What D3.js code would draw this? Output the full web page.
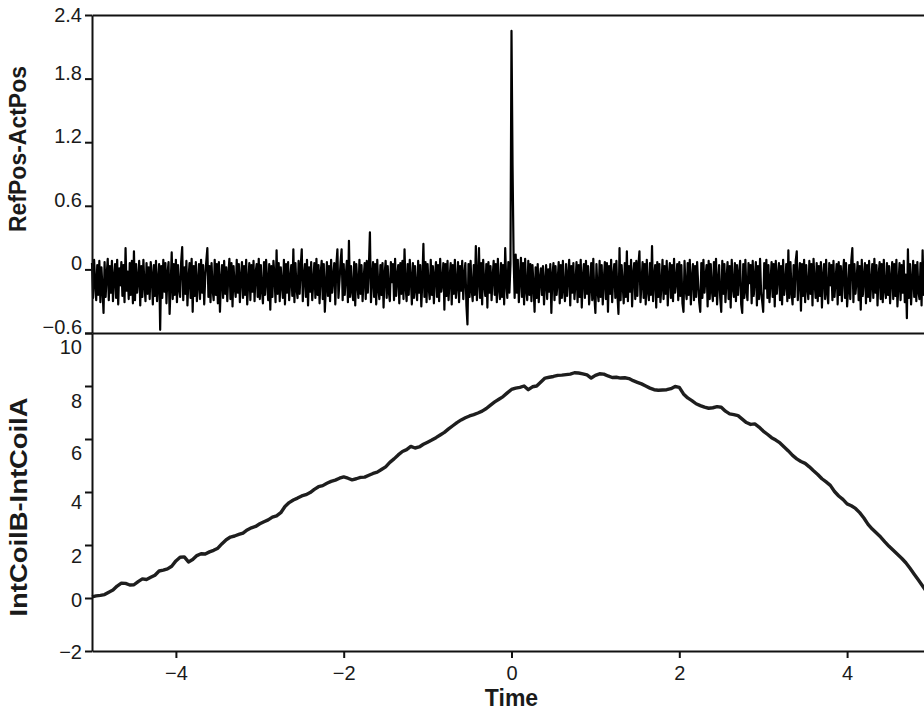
<!doctype html>
<html>
<head>
<meta charset="utf-8">
<style>
  body { margin: 0; background: #fff; }
  svg { display: block; }
  text { font-family: "Liberation Sans", Arial, sans-serif; fill: #1a1a1a; }
  .axis path, .axis line { stroke: #111; stroke-width: 2; }
  .axis text { font-size: 20px; fill: #1a1a1a; }
  .title { font-size: 23px; font-weight: bold; }
</style>
<script src="https://d3js.org/d3.v7.min.js"></script>
</head>
<body>
<svg width="924" height="710"></svg>
<script>
// sampled signals, time runs from tStart to tEnd in fixed steps
var tStart = -5, tEnd = 5;
var refPosStep = 0.0125;
var refPosDiff = [
  0.06,-0.27,0.09,-0.12,-0.29,0.04,-0.24,0.08,-0.31,0.02,-0.18,-0.41,0.07,-0.26,-0.05,0.10,-0.29,0.03,-0.22,0.08,
  -0.30,-0.08,0.05,-0.27,0.09,-0.33,0.01,-0.15,0.07,-0.25,0.04,-0.31,0.20,-0.20,-0.02,-0.28,0.06,-0.24,0.08,-0.32,
  0.17,-0.29,0.05,-0.22,-0.10,0.08,-0.34,0.03,-0.26,0.09,-0.14,-0.30,0.06,-0.23,0.02,-0.28,0.07,-0.06,-0.33,0.04,
  -0.25,0.08,-0.30,-0.11,0.05,-0.57,0.03,-0.27,0.09,-0.21,0.06,-0.32,-0.04,0.07,-0.42,-0.15,0.16,-0.28,0.05,-0.24,
  0.09,-0.31,0.04,-0.18,-0.26,0.07,0.21,-0.29,0.02,-0.23,0.08,-0.34,-0.09,0.06,-0.27,0.10,-0.40,0.03,-0.25,0.07,
  -0.30,-0.13,0.05,-0.28,0.09,-0.22,0.04,-0.33,-0.07,0.08,0.20,-0.26,0.03,-0.31,0.06,-0.19,-0.29,0.09,-0.24,0.05,
  -0.32,0.07,-0.40,-0.10,0.04,-0.27,0.08,-0.23,0.02,-0.30,-0.05,0.10,-0.28,0.06,-0.35,0.03,-0.16,-0.26,0.09,-0.22,
  0.05,-0.31,-0.08,0.07,-0.27,0.03,-0.24,0.09,-0.33,-0.12,0.06,-0.29,0.04,-0.21,0.08,-0.30,-0.03,0.05,-0.26,0.10,
  -0.28,0.04,-0.19,-0.32,0.07,-0.24,0.09,-0.11,-0.29,0.05,-0.38,0.03,-0.26,0.08,-0.06,-0.31,0.18,-0.23,0.06,-0.30,
  0.02,-0.14,-0.27,0.09,-0.33,0.05,-0.22,0.07,-0.29,-0.09,0.04,-0.25,0.19,-0.31,0.06,-0.18,-0.27,0.08,-0.23,0.03,
  0.19,-0.30,-0.07,0.05,-0.26,0.09,-0.34,0.02,-0.21,0.07,-0.29,-0.12,0.06,-0.27,0.10,-0.24,0.04,-0.32,-0.04,0.08,
  -0.28,0.05,-0.40,-0.16,0.07,-0.25,0.03,-0.30,0.09,-0.22,-0.08,0.06,-0.33,0.04,0.19,-0.27,-0.11,0.07,0.19,-0.29,
  0.05,-0.24,-0.06,0.08,-0.31,0.27,-0.26,0.03,-0.20,-0.29,0.07,-0.34,0.05,-0.13,-0.27,0.09,-0.23,0.04,-0.30,-0.09,
  0.06,-0.28,0.08,-0.22,0.03,0.35,-0.31,-0.10,0.07,-0.26,0.05,-0.33,0.09,-0.18,-0.28,0.04,-0.24,0.06,-0.36,-0.05,
  0.08,-0.27,0.03,-0.21,-0.30,0.07,-0.12,0.05,-0.29,0.10,-0.25,-0.07,0.04,-0.32,0.06,-0.23,0.08,-0.28,0.19,-0.16,
  -0.30,0.05,-0.24,0.09,-0.09,-0.33,0.06,-0.27,0.03,-0.19,-0.29,0.08,-0.22,0.04,-0.35,-0.11,0.24,-0.26,0.07,-0.31,
  0.05,-0.17,-0.28,0.09,-0.24,0.03,-0.32,-0.06,0.07,-0.26,0.04,-0.30,0.10,-0.21,-0.13,0.06,-0.38,0.05,-0.25,0.08,
  -0.29,-0.08,0.06,-0.33,0.04,-0.23,0.09,-0.27,-0.15,0.07,-0.31,0.03,-0.20,0.08,-0.28,-0.05,0.06,-0.34,-0.52,0.05,
  -0.26,0.08,-0.19,-0.30,0.04,-0.24,0.22,-0.29,-0.10,0.20,-0.27,0.06,-0.33,0.09,-0.14,-0.25,0.05,-0.36,0.07,-0.22,
  0.03,-0.29,-0.07,0.08,-0.24,0.05,-0.31,0.10,-0.18,-0.28,0.06,-0.26,0.04,-0.33,0.20,-0.12,-0.27,0.07,-0.22,0.05,
  2.25,0.98,0.12,-0.27,0.14,-0.22,0.09,-0.31,-0.08,0.11,-0.26,0.06,-0.33,0.10,-0.19,-0.29,0.08,-0.24,0.05,-0.30,
  0.04,-0.15,-0.40,0.02,-0.27,0.05,-0.31,-0.09,0.01,-0.24,0.03,-0.33,-0.12,0.04,-0.28,0.00,-0.21,0.05,-0.41,-0.06,
  0.06,-0.29,0.03,-0.24,-0.11,0.07,-0.32,0.04,-0.27,0.08,-0.19,-0.30,0.05,-0.25,-0.06,0.09,-0.34,0.03,-0.22,0.06,
  -0.28,-0.13,0.07,-0.31,0.04,-0.26,0.09,-0.36,-0.08,0.05,-0.27,0.08,-0.23,0.03,-0.33,-0.16,0.06,-0.29,0.10,-0.25,
  -0.41,0.05,-0.20,-0.30,0.08,-0.26,0.04,-0.33,-0.10,0.07,-0.28,0.06,-0.40,0.03,-0.23,0.09,-0.31,-0.07,0.05,-0.27,
  0.08,-0.24,-0.42,0.20,-0.29,0.04,-0.14,-0.32,0.06,-0.26,0.17,-0.30,0.03,-0.21,0.09,-0.35,-0.05,0.06,-0.28,0.08,
  -0.25,0.04,0.17,-0.31,-0.12,0.07,-0.27,0.05,-0.33,0.09,-0.20,-0.29,0.06,-0.24,0.22,-0.30,-0.08,0.04,-0.36,0.07,
  -0.26,0.05,-0.31,-0.15,0.09,-0.28,0.03,-0.23,0.08,-0.34,-0.06,0.06,-0.27,0.04,-0.30,0.10,-0.22,-0.11,0.05,-0.29,
  0.07,-0.25,0.04,-0.32,-0.40,0.08,-0.18,-0.28,0.06,-0.24,0.09,-0.33,-0.09,0.05,-0.29,0.03,-0.26,0.07,-0.14,-0.31,
  -0.40,0.06,-0.27,0.09,-0.22,-0.07,0.04,-0.35,0.08,-0.28,0.05,-0.19,-0.30,0.07,-0.25,0.10,-0.33,-0.12,0.04,-0.27,
  -0.40,0.08,-0.23,0.05,-0.31,-0.10,0.07,-0.28,0.03,-0.36,0.09,-0.16,-0.26,0.06,-0.30,0.04,-0.24,-0.05,0.08,-0.33,
  -0.41,0.05,-0.27,0.09,-0.20,-0.29,0.06,-0.13,0.04,-0.32,0.08,-0.25,-0.08,0.07,-0.34,0.03,-0.28,0.10,-0.22,-0.30,
  -0.40,0.06,-0.18,0.09,-0.27,0.04,-0.31,-0.11,0.07,-0.26,0.05,-0.35,0.08,-0.23,-0.06,0.06,-0.29,0.03,-0.33,0.09,
  -0.24,-0.14,0.05,-0.30,0.18,-0.27,0.07,-0.21,-0.33,0.04,-0.26,0.08,0.17,-0.29,-0.09,0.06,-0.39,0.05,-0.25,0.09,
  -0.31,0.04,-0.17,-0.28,0.08,-0.23,0.05,-0.34,0.10,-0.12,-0.27,0.06,-0.30,0.03,-0.25,0.07,-0.36,-0.07,0.05,-0.28,
  0.09,-0.22,-0.32,0.06,-0.15,0.04,-0.29,0.08,-0.26,-0.10,0.05,-0.33,0.07,-0.24,0.03,-0.30,-0.05,0.09,-0.27,0.06,
  -0.35,-0.18,0.04,-0.28,0.08,0.20,-0.31,0.05,-0.23,-0.11,0.07,-0.29,0.03,-0.38,0.09,-0.25,-0.08,0.06,-0.32,0.04,
  -0.26,0.08,-0.30,-0.13,0.05,-0.27,0.10,-0.22,0.04,-0.34,-0.06,0.07,-0.28,0.05,-0.31,0.09,-0.19,-0.27,0.06,-0.24,
  0.03,-0.32,-0.09,0.07,-0.28,0.05,-0.25,0.09,-0.35,-0.14,0.06,-0.29,0.04,-0.22,0.08,-0.31,-0.05,-0.46,0.19,-0.27,
  0.05,-0.33,-0.12,0.08,-0.26,0.04,-0.30,0.07,-0.21,-0.28,0.06,-0.34,0.18,-0.24,-0.08,0.09,-0.29,0.05,-0.31,0.07,
  -0.25
];
var coilStep = 0.05;
var coilDiff = [
  0.04,0.08,0.10,0.13,0.22,0.30,0.45,0.56,0.55,0.49,
  0.50,0.62,0.72,0.70,0.78,0.86,1.02,1.05,1.10,1.20,
  1.40,1.54,1.55,1.36,1.45,1.60,1.67,1.66,1.74,1.80,
  1.88,2.05,2.20,2.30,2.34,2.40,2.45,2.57,2.65,2.70,
  2.80,2.88,2.95,3.05,3.10,3.22,3.45,3.60,3.70,3.77,
  3.85,3.90,3.98,4.10,4.20,4.24,4.33,4.40,4.45,4.52,
  4.57,4.52,4.46,4.50,4.55,4.56,4.63,4.70,4.75,4.85,
  4.95,5.12,5.25,5.40,5.53,5.60,5.72,5.66,5.70,5.80,
  5.88,5.96,6.05,6.15,6.25,6.38,6.50,6.62,6.72,6.80,
  6.87,6.92,6.98,7.05,7.15,7.28,7.40,7.50,7.60,7.74,
  7.87,7.92,7.95,8.00,7.86,7.97,8.00,8.15,8.30,8.33,
  8.36,8.40,8.41,8.43,8.45,8.50,8.49,8.46,8.42,8.30,
  8.40,8.46,8.45,8.38,8.32,8.33,8.30,8.31,8.28,8.20,
  8.14,8.08,8.00,7.92,7.86,7.84,7.85,7.86,7.90,7.98,
  7.95,7.70,7.55,7.45,7.33,7.26,7.20,7.16,7.18,7.22,
  7.20,7.05,6.95,6.92,6.88,6.75,6.62,6.55,6.57,6.45,
  6.30,6.18,6.05,5.96,5.85,5.70,5.55,5.38,5.25,5.15,
  5.08,4.95,4.80,4.66,4.50,4.38,4.25,4.02,3.85,3.72,
  3.55,3.48,3.38,3.22,3.02,2.78,2.60,2.45,2.30,2.12,
  1.95,1.80,1.65,1.50,1.33,1.12,0.90,0.68,0.45,0.22,
  0.00
];
var timeTicks = [-4, -2, 0, 2, 4];
var topTicks = [-0.6, 0, 0.6, 1.2, 1.8, 2.4];
var bottomTicks = [-2, 0, 2, 4, 6, 8, 10];

var svg = d3.select("svg");

var x = d3.scaleLinear().domain([tStart, tEnd]).range([92, 931]);
var yTop = d3.scaleLinear().domain([-0.6, 2.4]).range([333, 15]);
var yBot = d3.scaleLinear().domain([-2, 10]).range([651, 333]);

// top panel signal
var topLine = d3.line()
    .x(function(d, i) { return x(tStart + i * refPosStep); })
    .y(function(d) { return yTop(d); });
svg.append("path")
    .datum(refPosDiff)
    .attr("d", topLine)
    .attr("fill", "none")
    .attr("stroke", "#000")
    .attr("stroke-width", 2.2)
    .attr("stroke-linejoin", "round");

// bottom panel signal
var botLine = d3.line()
    .x(function(d, i) { return x(tStart + i * coilStep); })
    .y(function(d) { return yBot(d); });
svg.append("path")
    .datum(coilDiff)
    .attr("d", botLine)
    .attr("fill", "none")
    .attr("stroke", "#1e1e1e")
    .attr("stroke-width", 3.4)
    .attr("stroke-linejoin", "round");

// frame lines
svg.append("g").attr("class", "axis")
    .attr("transform", "translate(0,15)")
    .call(d3.axisTop(x).tickValues([]).tickSizeOuter(0));
svg.append("g").attr("class", "axis")
    .attr("transform", "translate(0,333)")
    .call(d3.axisBottom(x).tickValues([]).tickSizeOuter(0));

// top y axis
var topFmt = function(d) { return d === 0 ? "0" : d3.format(".1f")(d); };
var gTop = svg.append("g").attr("class", "axis")
    .attr("transform", "translate(92,0)")
    .call(d3.axisLeft(yTop).tickValues(topTicks).tickSize(7).tickSizeOuter(0).tickFormat(topFmt));
gTop.selectAll(".tick text")
    .attr("y", function(d) { return d === 2.4 ? 0 : -6; });

// bottom y axis
var botShift = { "10": 14, "8": 15, "6": 14, "4": 10, "2": 11, "0": 2, "-2": 1 };
var gBot = svg.append("g").attr("class", "axis")
    .attr("transform", "translate(92,0)")
    .call(d3.axisLeft(yBot).tickValues(bottomTicks).tickSize(7).tickSizeOuter(0).tickFormat(d3.format("d")));
gBot.selectAll(".tick text")
    .attr("y", function(d) { return botShift[d]; });

// x axis
var gX = svg.append("g").attr("class", "axis")
    .attr("transform", "translate(0,651)")
    .call(d3.axisBottom(x).tickValues(timeTicks).tickSize(7).tickSizeOuter(0).tickFormat(d3.format("d")));
gX.selectAll(".tick text").attr("y", 15);

// titles
svg.append("text")
    .attr("class", "title")
    .attr("x", x(0))
    .attr("y", 706)
    .attr("text-anchor", "middle")
    .text("Time");

svg.append("text")
    .attr("class", "title")
    .attr("transform", "translate(26,149) rotate(-90)")
    .attr("text-anchor", "middle")
    .attr("textLength", 166)
    .attr("lengthAdjust", "spacingAndGlyphs")
    .text("RefPos-ActPos");

svg.append("text")
    .attr("class", "title")
    .attr("transform", "translate(27,507) rotate(-90)")
    .attr("text-anchor", "middle")
    .attr("textLength", 219)
    .attr("lengthAdjust", "spacingAndGlyphs")
    .text("IntCoilB-IntCoilA");
</script>
</body>
</html>
